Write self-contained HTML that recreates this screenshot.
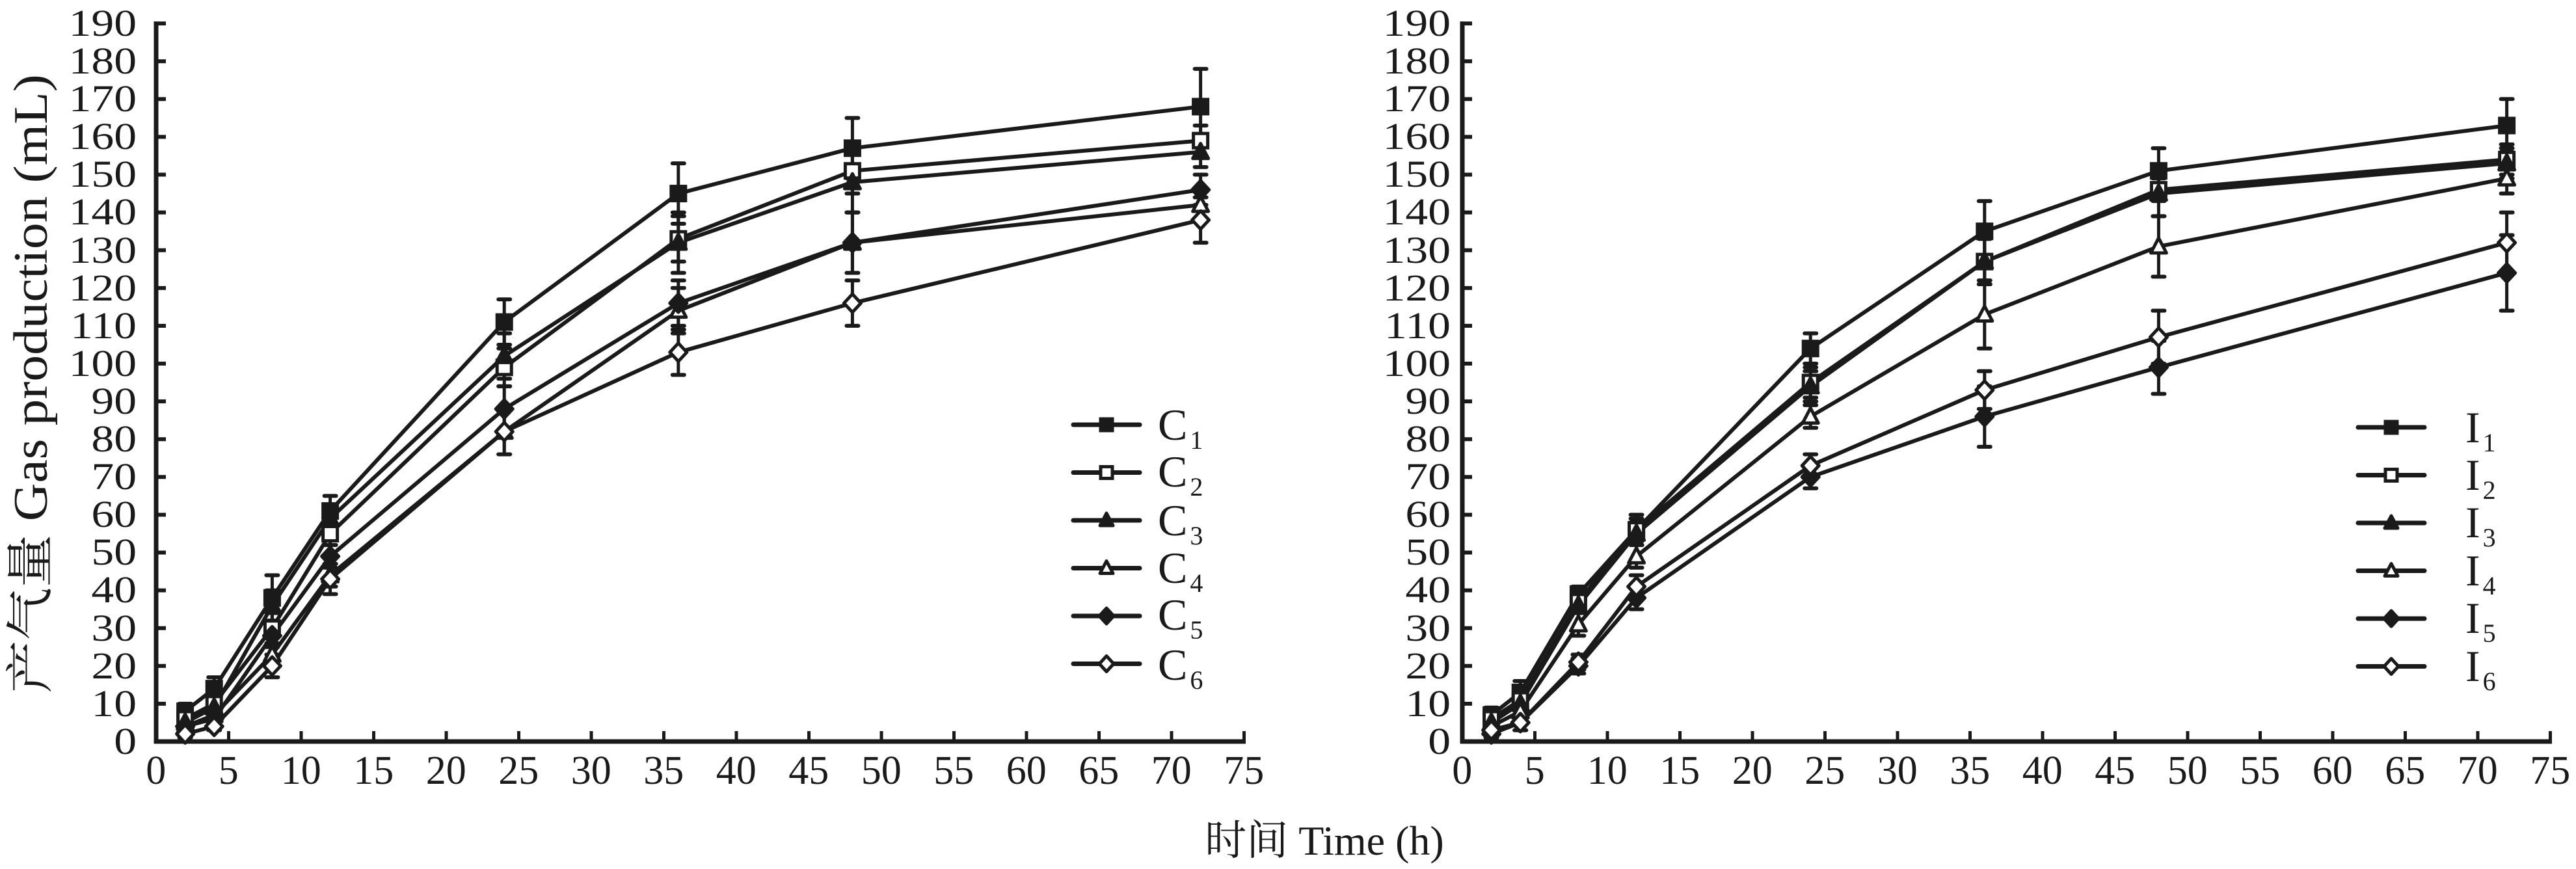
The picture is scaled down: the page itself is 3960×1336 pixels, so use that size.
<!DOCTYPE html>
<html><head><meta charset="utf-8">
<style>
html,body{margin:0;padding:0;background:#fff;}
#wrap{position:relative;width:3960px;height:1336px;overflow:hidden;background:#fff;font-family:"Liberation Serif","Noto Serif CJK SC",serif;color:#1a1a1a;}
svg{position:absolute;left:0;top:0;}
.yl{position:absolute;top:7px;width:160px;text-align:right;font-size:58px;line-height:58.1px;transform:scaleX(1.2);transform-origin:right center;}
.xl{position:absolute;top:1150px;display:flex;font-size:62px;}
.xl span{display:block;width:111.5px;text-align:center;}
.lg{position:absolute;font-size:68px;line-height:68px;height:68px;white-space:nowrap;}
.lg sub{font-size:40px;position:relative;top:14px;vertical-align:baseline;margin-left:4px;}
</style></head><body>
<div id="wrap">
<svg id="g" width="3960" height="1336" viewBox="0 0 3960 1336"></svg>
<div class="yl" style="left:50px">190<br>180<br>170<br>160<br>150<br>140<br>130<br>120<br>110<br>100<br>90<br>80<br>70<br>60<br>50<br>40<br>30<br>20<br>10<br>0</div>
<div class="yl" style="left:2070px">190<br>180<br>170<br>160<br>150<br>140<br>130<br>120<br>110<br>100<br>90<br>80<br>70<br>60<br>50<br>40<br>30<br>20<br>10<br>0</div>
<div class="xl" style="left:184px"><span>0</span><span>5</span><span>10</span><span>15</span><span>20</span><span>25</span><span>30</span><span>35</span><span>40</span><span>45</span><span>50</span><span>55</span><span>60</span><span>65</span><span>70</span><span>75</span></div>
<div class="xl" style="left:2192px"><span>0</span><span>5</span><span>10</span><span>15</span><span>20</span><span>25</span><span>30</span><span>35</span><span>40</span><span>45</span><span>50</span><span>55</span><span>60</span><span>65</span><span>70</span><span>75</span></div>
<div class="lg" style="left:1780px;top:619px">C<sub>1</sub></div>
<div class="lg" style="left:1780px;top:691px">C<sub>2</sub></div>
<div class="lg" style="left:1780px;top:766px">C<sub>3</sub></div>
<div class="lg" style="left:1780px;top:839px">C<sub>4</sub></div>
<div class="lg" style="left:1780px;top:911px">C<sub>5</sub></div>
<div class="lg" style="left:1780px;top:988px">C<sub>6</sub></div>
<div class="lg" style="left:3790px;top:623px">I<sub>1</sub></div>
<div class="lg" style="left:3790px;top:696px">I<sub>2</sub></div>
<div class="lg" style="left:3790px;top:769px">I<sub>3</sub></div>
<div class="lg" style="left:3790px;top:843px">I<sub>4</sub></div>
<div class="lg" style="left:3790px;top:916px">I<sub>5</sub></div>
<div class="lg" style="left:3790px;top:990px">I<sub>6</sub></div>
<div style="position:absolute;left:48px;top:590px;width:1400px;margin-left:-700px;text-align:center;font-size:74px;line-height:74px;transform:translateY(-37px) rotate(-90deg) scaleX(1.1);white-space:nowrap;">产气量 Gas production (mL)</div>
<div style="position:absolute;left:1636px;top:1258px;width:800px;text-align:center;font-size:64px;line-height:70px;white-space:nowrap;">时间 Time (h)</div>
</div>
<script>
var NS="http://www.w3.org/2000/svg",g=document.getElementById('g');
function el(n,a){var e=document.createElementNS(NS,n);for(var k in a)e.setAttribute(k,a[k]);g.appendChild(e);return e;}
var C='#1a1a1a',T=[2,4,8,12,24,36,48,72];
function mk(type,x,y,s){s=s||11;var fill=(type%2==0)?C:'#fff';
 if(type<2)el('rect',{x:x-s,y:y-s,width:2*s,height:2*s,fill:fill,stroke:C,'stroke-width':5});
 else if(type<4)el('polygon',{points:(x)+','+(y-s-2)+' '+(x+s+1)+','+(y+s-1)+' '+(x-s-1)+','+(y+s-1),fill:fill,stroke:C,'stroke-width':5,'stroke-linejoin':'round'});
 else el('polygon',{points:x+','+(y-s-3)+' '+(x+s+2)+','+y+' '+x+','+(y+s+3)+' '+(x-s-2)+','+y,fill:fill,stroke:C,'stroke-width':5,'stroke-linejoin':'round'});}
function panel(x0,data,err,legx,legy){
 var X=function(t){return x0+t*22.3},Y=function(v){return 1140-v*5.81};
 el('line',{x1:x0,y1:33,x2:x0,y2:1143,stroke:C,'stroke-width':7});
 el('line',{x1:x0-3,y1:1140,x2:x0+1675,y2:1140,stroke:C,'stroke-width':7});
 for(var v=10;v<=190;v+=10)el('line',{x1:x0,y1:Y(v),x2:x0+15,y2:Y(v),stroke:C,'stroke-width':6});
 for(var t=5;t<=75;t+=5)el('line',{x1:X(t),y1:1140,x2:X(t),y2:1124,stroke:C,'stroke-width':5});
 data.forEach(function(d,i){
  var pts=d.map(function(v,j){return X(T[j])+','+Y(v)}).join(' ');
  el('polyline',{points:pts,fill:'none',stroke:C,'stroke-width':6,'stroke-linejoin':'round'});
  d.forEach(function(v,j){var e=err[i][j];if(e){var x=X(T[j]);
   el('line',{x1:x,y1:Y(v-e),x2:x,y2:Y(v+e),stroke:C,'stroke-width':5});
   el('line',{x1:x-9,y1:Y(v-e),x2:x+9,y2:Y(v-e),stroke:C,'stroke-width':6,'stroke-linecap':'round'});
   el('line',{x1:x-9,y1:Y(v+e),x2:x+9,y2:Y(v+e),stroke:C,'stroke-width':6,'stroke-linecap':'round'});}});
 });
 data.forEach(function(d,i){d.forEach(function(v,j){mk(i,X(T[j]),Y(v));});});
 for(var i=0;i<6;i++){var y=legy+i*73.5;
  el('line',{x1:legx,y1:y,x2:legx+102,y2:y,stroke:C,'stroke-width':7,'stroke-linecap':'round'});
  mk(i,legx+51,y,9);}
}
panel(240,[
 [8,14,38,61,111,145,157,168],
 [6,10,30,55,99,133,151,159],
 [5,9,36,59,102,132,148,156],
 [4,7,23,44,82,114,132,142],
 [4,6,28,49,88,116,132,146],
 [2,4,20,43,82,103,116,138]],
 [[2,3,6,4,6,8,8,10],[1,2,4,3,5,6,6,4],[1,2,4,3,6,8,8,4],[1,1,3,3,6,6,8,4],[1,1,3,3,6,6,8,4],[1,1,3,4,6,6,6,6]],1650,653);
panel(2248,[
 [7,13,39,56,104,135,151,163],
 [6,11,37,56,95,127,146,154],
 [5,10,36,55,94,127,145,153],
 [4,8,31,49,86,113,131,149],
 [2,5,20,38,70,86,99,124],
 [3,5,21,41,73,93,107,132]],
 [[2,3,2,4,4,8,6,7],[1,2,2,3,4,6,3,4],[1,2,2,3,4,6,6,4],[1,2,3,3,3,9,8,4],[1,2,2,3,3,8,7,10],[1,2,2,3,3,5,7,8]],3625,657);
</script>
</body></html>
